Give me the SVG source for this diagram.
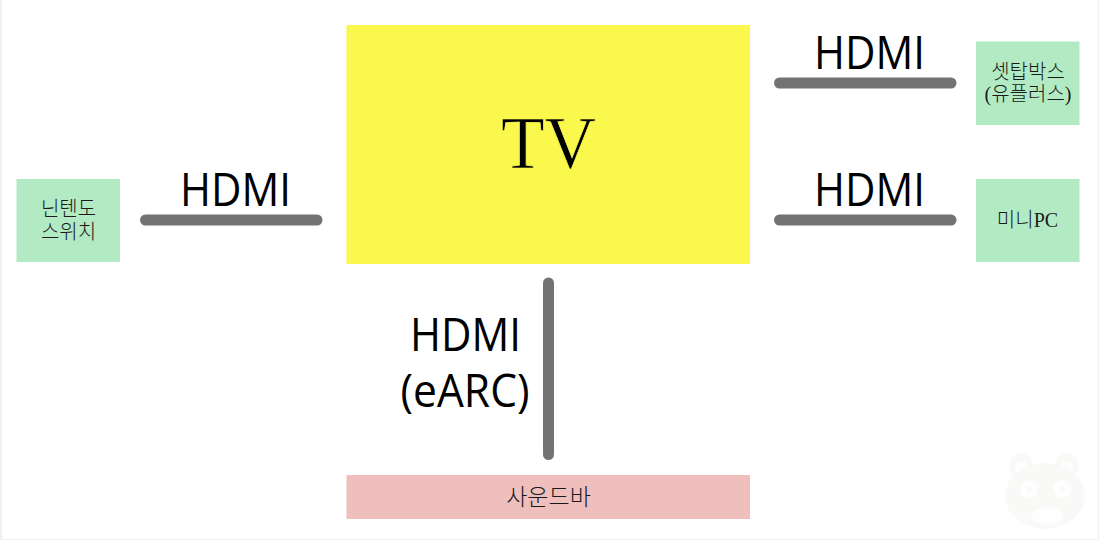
<svg xmlns="http://www.w3.org/2000/svg" width="1099" height="540" viewBox="0 0 1099 540">
<style>
.g{fill:#b2ebc3}
.c{stroke:#737373;stroke-width:11;stroke-linecap:round;fill:none}
.h{font-family:"Open Sans","Noto Sans",sans-serif;font-size:46px;fill:#000;text-anchor:middle}
.k{font-family:"Liberation Serif","Noto Sans CJK KR",sans-serif;font-weight:300;font-size:20px;fill:#1a1a1a;text-anchor:middle}
.w{fill:#f9f9f7}
.v{fill:#fefefe}
.b{fill:#f0f0f0}
</style>
<rect width="1099" height="540" fill="#fff"/>
<rect class="b" x="0" y="0" width="2" height="540"/>
<rect class="b" x="1098" y="0" width="1" height="540"/>
<rect class="b" x="0" y="539" width="1099" height="1"/>
<g id="watermark">
<circle class="w" cx="1021" cy="465" r="12"/><circle class="w" cx="1067" cy="465" r="12"/>
<circle class="v" cx="1021" cy="468" r="6"/><circle class="v" cx="1067" cy="468" r="6"/>
<ellipse class="w" cx="1045" cy="496" rx="40" ry="33"/>
<circle class="v" cx="1029" cy="489" r="9"/><circle class="v" cx="1062" cy="489" r="9"/>
<circle class="w" cx="1029" cy="489" r="2.500"/><circle class="w" cx="1062" cy="489" r="2.500"/>
<ellipse class="v" cx="1047" cy="516" rx="16" ry="8"/>
<ellipse class="w" cx="1047" cy="504" rx="6" ry="5"/>
</g>
<g id="connectors">
<path class="c" d="M145.500 220H317"/>
<path class="c" d="M779.500 83H951"/>
<path class="c" d="M779.500 220H951"/>
<path class="c" d="M548.500 283V454.500"/>
</g>
<g id="tv"><rect x="346.500" y="25" width="403.500" height="239" fill="#faf84d"/>
<text x="501" y="168" font-family="Liberation Serif,serif" font-size="73" textLength="95" lengthAdjust="spacingAndGlyphs" fill="#000" stroke="#faf84d" stroke-width="0.7">TV</text></g>
<g id="nintendo"><rect class="g" x="16.500" y="179" width="103.500" height="83"/>
<text class="k" x="68.500" y="216">닌텐도</text><text class="k" x="68.500" y="239">스위치</text></g>
<g id="settop"><rect class="g" x="976" y="41.500" width="103.500" height="83.500"/>
<text class="k" x="1028" y="79">셋탑박스</text><text class="k" x="1028" y="101">(유플러스)</text></g>
<g id="minipc"><rect class="g" x="976" y="179" width="103.500" height="83"/>
<text class="k" x="1027.500" y="227">미니PC</text></g>
<g id="soundbar"><rect x="346.500" y="475" width="403.500" height="44" fill="#eebfbd"/>
<text class="k" x="548.500" y="505" style="font-size:23px">사운드바</text></g>
<g id="labels">
<text class="h" x="235.500" y="206" textLength="111" lengthAdjust="spacingAndGlyphs">HDMI</text>
<text class="h" x="869.500" y="69" textLength="111" lengthAdjust="spacingAndGlyphs">HDMI</text>
<text class="h" x="869.500" y="206" textLength="111" lengthAdjust="spacingAndGlyphs">HDMI</text>
<text class="h" x="465.500" y="351" textLength="111" lengthAdjust="spacingAndGlyphs">HDMI</text>
<text class="h" x="465" y="407" textLength="129" lengthAdjust="spacingAndGlyphs">(eARC)</text>
</g>
</svg>
